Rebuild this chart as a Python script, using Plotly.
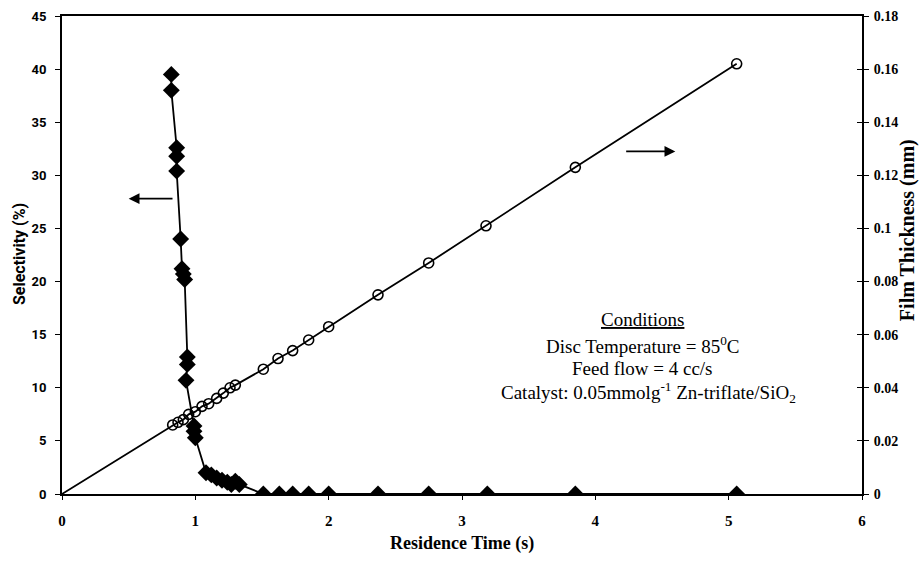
import plotly.graph_objects as go

# Selectivity (%) vs residence time (s)
sel_time = [0.82, 0.82, 0.86, 0.86, 0.86, 0.89, 0.90, 0.91, 0.92, 0.94, 0.94, 0.93,
            0.99, 0.99, 1.00, 1.08, 1.12, 1.16, 1.20, 1.24, 1.27, 1.30, 1.33,
            1.51, 1.63, 1.73, 1.85, 2.00, 2.37, 2.75, 3.19, 3.85, 5.06]
selectivity = [39.5, 38.0, 32.6, 31.8, 30.4, 24.0, 21.2, 20.7, 20.2, 12.9, 12.2, 10.7,
               6.4, 5.9, 5.3, 2.0, 1.8, 1.5, 1.3, 1.1, 0.9, 1.2, 0.9,
               0, 0, 0, 0, 0, 0, 0, 0, 0, 0]

# Film thickness (mm) vs residence time (s)
film_time = [0.83, 0.87, 0.91, 0.95, 1.00, 1.05, 1.10, 1.16, 1.21, 1.26, 1.30,
             1.51, 1.62, 1.73, 1.85, 2.00, 2.37, 2.75, 3.18, 3.85, 5.06]
film_thick = [0.026, 0.027, 0.028, 0.030, 0.031, 0.033, 0.034, 0.036, 0.038, 0.040, 0.041,
              0.047, 0.051, 0.054, 0.058, 0.063, 0.075, 0.087, 0.101, 0.123, 0.162]

x_ticks = [0, 1, 2, 3, 4, 5, 6]
y1_ticks = [0, 5, 10, 15, 20, 25, 30, 35, 40, 45]
y2_ticks = [0, 0.02, 0.04, 0.06, 0.08, 0.1, 0.12, 0.14, 0.16, 0.18]
y2_labels = ["0", "0.02", "0.04", "0.06", "0.08", "0.1", "0.12", "0.14", "0.16", "0.18"]

serif = "Liberation Serif"
sans = "Roboto"

fig = go.Figure()

fig.add_trace(go.Scatter(
    x=[0.0] + film_time, y=[0.0] + film_thick, mode="lines",
    line=dict(color="black", width=1.8), yaxis="y2", showlegend=False, hoverinfo="skip"))
fig.add_trace(go.Scatter(
    x=film_time, y=film_thick, mode="markers",
    marker=dict(symbol="circle-open", size=10, color="black", line=dict(width=1.6)),
    yaxis="y2", showlegend=False))
fig.add_trace(go.Scatter(
    x=sel_time, y=selectivity, mode="lines+markers",
    line=dict(color="black", width=1.8),
    marker=dict(symbol="diamond", size=13, color="black"),
    showlegend=False))
# invisible trace to carry the inner half of the right-hand crossing ticks
fig.add_trace(go.Scatter(x=[film_time[0]], y=[film_thick[0]], mode="markers",
                         marker=dict(opacity=0), yaxis="y3", showlegend=False, hoverinfo="skip"))

fig.update_layout(
    width=921, height=561,
    margin=dict(l=62, r=59, t=16, b=67),
    paper_bgcolor="white", plot_bgcolor="white",
    font=dict(family=serif, color="black", size=14),
    xaxis=dict(range=[0, 6], tickvals=x_ticks, showgrid=False, zeroline=False,
               showline=True, linecolor="black", linewidth=2, mirror=True,
               ticks="outside", ticklen=4, tickcolor="black", ticklabelstandoff=8,
               tickfont=dict(family=serif, size=15, weight="bold"), automargin=False),
    yaxis=dict(range=[0, 45], tickvals=y1_ticks, showgrid=False, zeroline=False,
               showline=True, linecolor="black", linewidth=2,
               ticks="outside", ticklen=5, tickcolor="black", ticklabelstandoff=6,
               tickfont=dict(family=sans, size=13, weight="bold"), automargin=False),
    yaxis2=dict(range=[0, 0.18], tickvals=y2_ticks, ticktext=y2_labels,
                overlaying="y", side="right", showgrid=False, zeroline=False,
                showline=True, linecolor="black", linewidth=2,
                ticks="outside", ticklen=5, tickcolor="black", ticklabelstandoff=2,
                tickfont=dict(family=serif, size=14, weight="bold"), automargin=False),
    yaxis3=dict(range=[0, 0.18], tickvals=y2_ticks, overlaying="y", side="right",
                showgrid=False, zeroline=False, showline=False, showticklabels=False,
                ticks="inside", ticklen=5, tickcolor="black", automargin=False),
)

# Axis titles
fig.add_annotation(x=0.5, y=0, xref="paper", yref="paper", yshift=-49, text="Residence Time (s)",
                   showarrow=False, font=dict(family=serif, size=18, weight="bold"),
                   xanchor="center", yanchor="middle")
fig.add_annotation(x=0, y=0.502, xref="paper", yref="paper", xshift=-43, text="Selectivity (%)",
                   showarrow=False, textangle=-90, font=dict(family=sans, size=16, weight="bold"),
                   xanchor="center", yanchor="middle")
fig.add_annotation(x=1, y=0.552, xref="paper", yref="paper", xshift=45, text="Film Thickness (mm)",
                   showarrow=False, textangle=-90, font=dict(family=serif, size=20, weight="bold"),
                   xanchor="center", yanchor="middle")

# Arrows indicating axes
fig.add_annotation(x=0.50, y=27.8, ax=0.84, ay=27.8, xref="x", yref="y", axref="x", ayref="y",
                   showarrow=True, arrowhead=2, arrowsize=1.2, arrowwidth=1.8, arrowcolor="black", text="")
fig.add_annotation(x=4.60, y=0.129, ax=4.22, ay=0.129, xref="x", yref="y2", axref="x", ayref="y2",
                   showarrow=True, arrowhead=2, arrowsize=1.2, arrowwidth=1.8, arrowcolor="black", text="")

cond_lines = ["<u>Conditions</u>",
              "Disc Temperature = 85<sup>0</sup>C",
              "Feed flow = 4 cc/s",
              "Catalyst: 0.05mmolg<sup>-1</sup> Zn-triflate/SiO<sub>2</sub>"]
cond_x = [4.355, 4.355, 4.355, 4.40]
cond_y = [16.4, 14.0, 11.8, 9.6]
for txt, xx, yy in zip(cond_lines, cond_x, cond_y):
    fig.add_annotation(x=xx, y=yy, xref="x", yref="y", text=txt, showarrow=False,
                       font=dict(family=serif, size=19, color="black"), xanchor="center", yanchor="middle")

fig.write_html("out.html")
